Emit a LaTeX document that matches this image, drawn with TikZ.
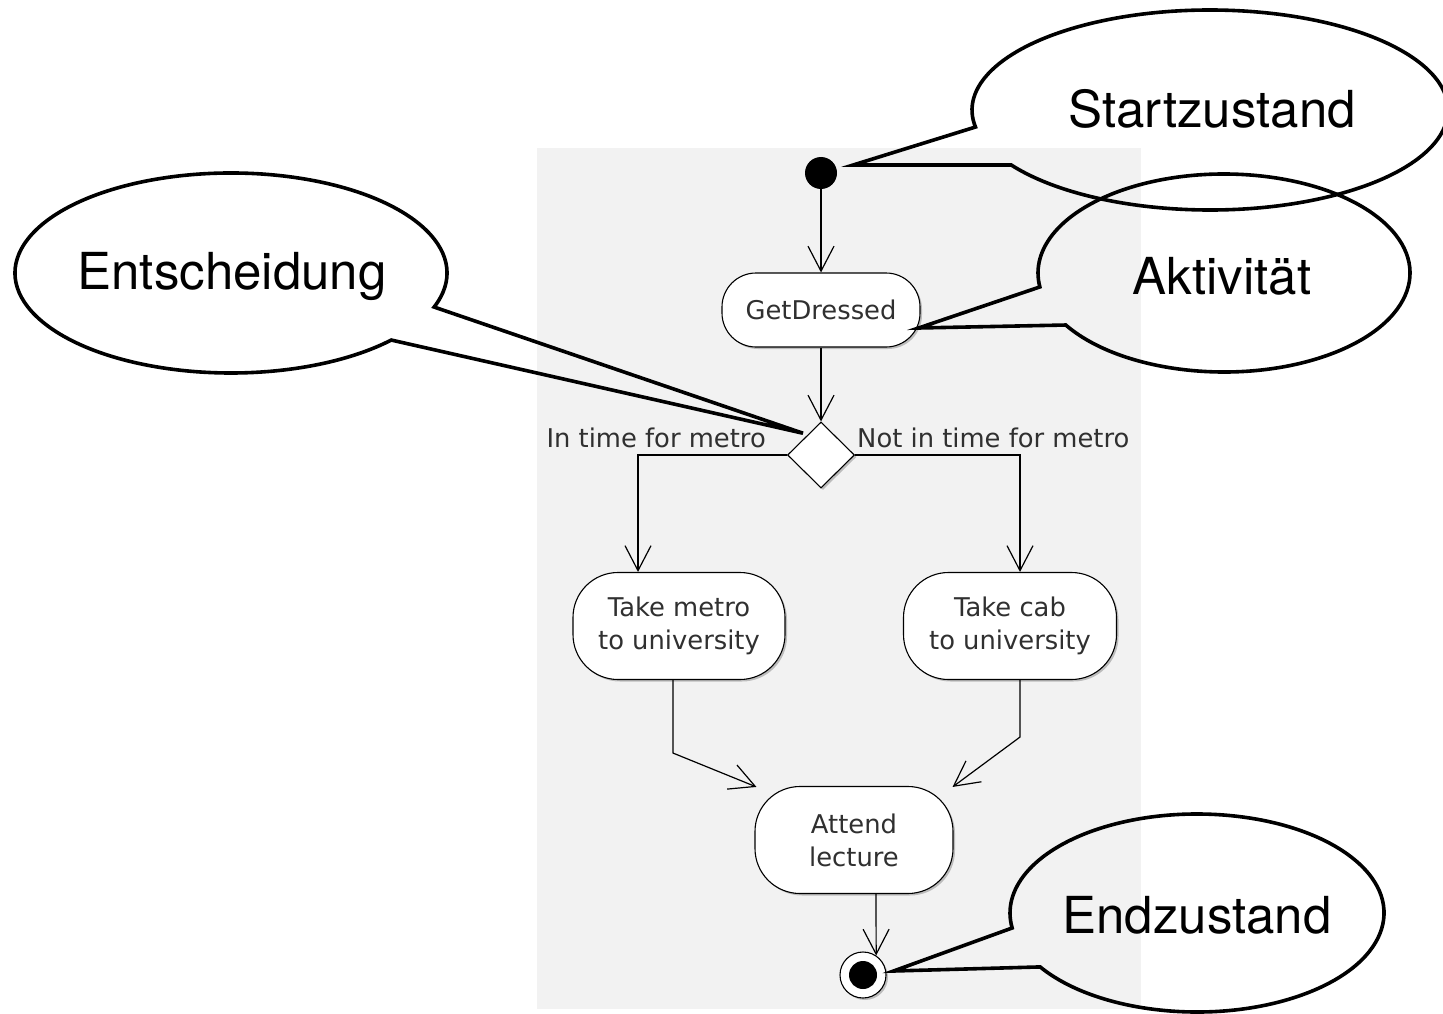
\documentclass[tikz,border=0pt]{standalone}
\usepackage{fontspec}
\newfontfamily\umlfont{DejaVu Sans}
\newfontfamily\notefont{TeX Gyre Heros}
\usetikzlibrary{arrows.meta,shapes.geometric,shadows}
\definecolor{panel}{HTML}{F2F2F2}
\definecolor{txt}{HTML}{303030}

\begin{document}
\begin{tikzpicture}[x=1pt,y=1pt,
  flow/.style={draw=black, line width=1.2pt, -{Straight Barb[length=25pt,width=26pt]}},
  soft/.style={drop shadow={shadow xshift=2pt, shadow yshift=-2pt, opacity=.22, fill=black}},
  activity/.style={draw=black, line width=1.1pt, fill=white, soft, inner sep=0pt,
    align=center, text=txt, font=\umlfont\fontsize{25.8}{33}\selectfont},
  guard/.style={text=txt, inner sep=0pt, font=\umlfont\fontsize{25.8}{30}\selectfont},
  note/.style={draw=black, line width=3.6pt},
  notetext/.style={anchor=base, inner sep=0pt, font=\notefont\fontsize{51}{60}\selectfont}]

\useasboundingbox (0,0) rectangle (1443,-1014);
\fill[panel] (537,-148) rectangle (1141,-1009);

% --- activity flow ---
\node[circle, fill=black, minimum size=32pt, inner sep=0pt] (start) at (821,-173) {};
\node[activity, rounded corners=34pt, minimum width=198pt, minimum height=74pt] (gd) at (821,-310) {GetDressed};
\node[diamond, draw=black, line width=1.1pt, fill=white, soft, inner sep=0pt,
      minimum width=67pt, minimum height=66pt] (dec) at (821,-455) {};
\node[activity, rounded corners=45pt, minimum width=212pt, minimum height=107pt] (metro) at (679,-626) {Take metro\\to university};
\node[activity, rounded corners=45pt, minimum width=213pt, minimum height=107pt] (cab) at (1010,-626) {Take cab\\to university};
\node[activity, rounded corners=45pt, minimum width=198pt, minimum height=107pt] (att) at (854,-840) {Attend\\lecture};
\node[circle, draw=black, line width=1.1pt, fill=white, soft, minimum size=46pt, inner sep=0pt] (fin) at (863,-975) {};
\node[circle, fill=black, minimum size=28pt, inner sep=0pt] (finin) at (fin.center) {};

\node[guard, anchor=base east] (gin) at (766,-447) {In time for metro};
\node[guard, anchor=base west] (gnot) at (857,-447) {Not in time for metro};

\draw[flow] (start) -- (gd.north);
\draw[flow] (gd.south) -- (dec.north);
\draw[flow] (dec.west) -| ([xshift=-41pt]metro.north);
\draw[flow] (dec.east) -| ([xshift=10pt]cab.north);
\draw[flow] ([xshift=-6pt]metro.south) -- ++(0,-73) -- ([xshift=2pt,yshift=-1pt]att.north west);
\draw[flow] ([xshift=10pt]cab.south) -- ++(0,-57) -- ([xshift=-1pt,yshift=-1pt]att.north east);
\draw[flow] ([xshift=22pt]att.south) -- (fin.56);

% --- callouts ---
\coordinate (cStart) at (1210,-110);
\coordinate (tStart) at ([shift={(16,8)}]start.east);
\draw[note] (cStart) ++(213.4:238 and 100)
  arc[start angle=213.4, end angle=549.8, x radius=238, y radius=100] -- (tStart) -- cycle;
\node[notetext] (nStart) at (1212,-128) {Startzustand};

\coordinate (cAct) at (1224,-273);
\coordinate (tAct) at ([shift={(-2,-18)}]gd.east);
\draw[note] (cAct) ++(211.7:186 and 99)
  arc[start angle=211.7, end angle=548.1, x radius=186, y radius=99] -- (tAct) -- cycle;
\node[notetext] (nAct) at (1222,-294) {Aktivität};

\coordinate (cDec) at (231,-273);
\coordinate (tDec) at ([shift={(-1,5)}]dec.north west);
\draw[note] (cDec) ++(-19.9:216 and 100)
  arc[start angle=-19.9, end angle=317.9, x radius=216, y radius=100] -- (tDec) -- cycle;
\node[notetext] (nDec) at (232,-289) {Entscheidung};

\coordinate (cEnd) at (1197,-913);
\coordinate (tEnd) at ([shift={(7,4)}]fin.east);
\draw[note] (cEnd) ++(213:187 and 99)
  arc[start angle=213, end angle=548.7, x radius=187, y radius=99] -- (tEnd) -- cycle;
\node[notetext] (nEnd) at (1197,-933) {Endzustand};
\end{tikzpicture}
\end{document}
